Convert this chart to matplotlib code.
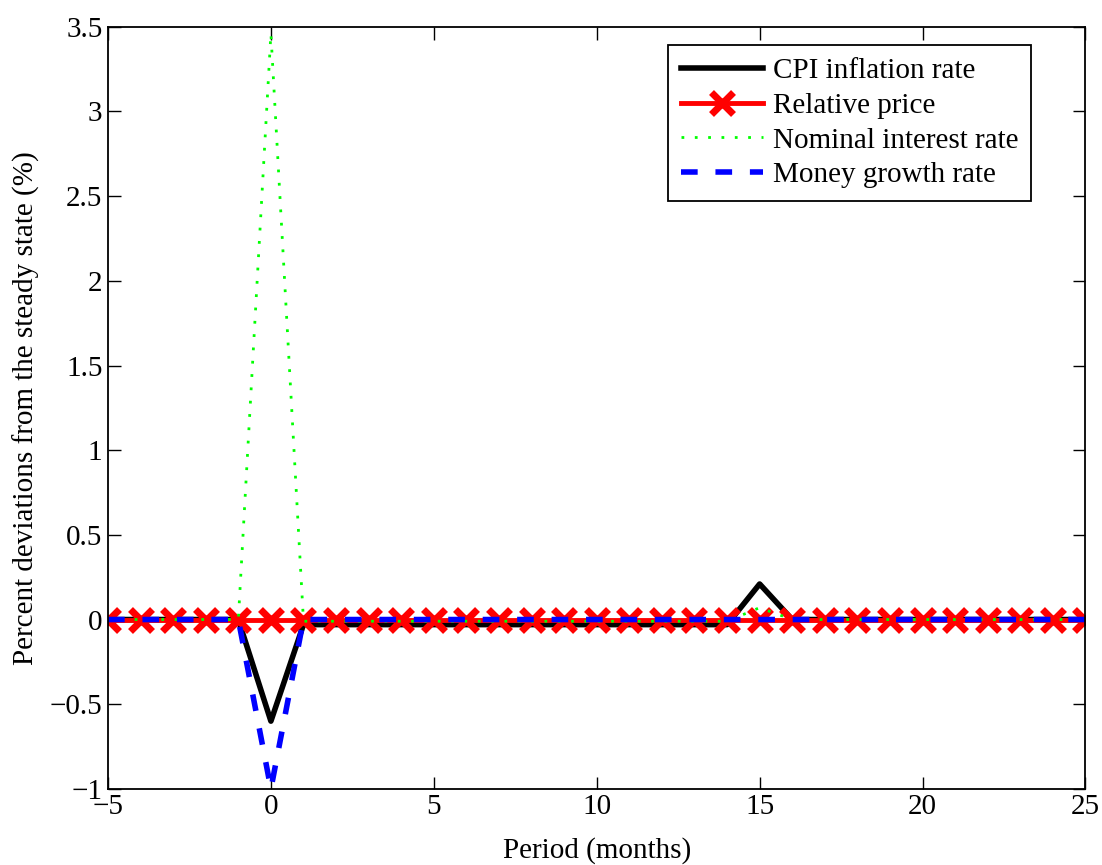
import numpy as np
import matplotlib
matplotlib.use("Agg")
import matplotlib.pyplot as plt

plt.rcParams["font.family"] = ["Liberation Serif", "DejaVu Serif"]

# ── Data ─────────────────────────────────────────────────────────
period = list(range(-5, 26))
cpi = [0, 0, 0, 0, 0, -0.6] + [-0.03] * 14 + [0.21] + [0] * 10
rel_price = [0] * 31
nominal = [0, 0, 0, 0, 0, 3.46] + [-0.01] * 14 + [0.07] + [0] * 10
money = [0, 0, 0, 0, 0, -1.0] + [0] * 25

xticks = [-5, 0, 5, 10, 15, 20, 25]
xtick_labels = ["\u22125", "0", "5", "10", "15", "20", "25"]
yticks = [-1, -0.5, 0, 0.5, 1, 1.5, 2, 2.5, 3, 3.5]
ytick_labels = ["\u22121", "\u22120.5", "0", "0.5", "1", "1.5", "2", "2.5", "3", "3.5"]

fig = plt.figure(figsize=(11.02, 8.65), dpi=100)
ax = fig.add_axes([0.098, 0.088, 0.887, 0.881])

ax.plot(period, cpi, color="black", lw=4, label="CPI inflation rate")
ax.plot(period, rel_price, color="red", lw=3.5, marker="x", ms=16, mew=5,
        label="Relative price")
ax.plot(period, nominal, color="#00ff00", lw=2, ls=(0, (1, 3.8)),
        label="Nominal interest rate")
ax.plot(period, money, color="blue", lw=4, ls=(0, (3, 3.2)),
        label="Money growth rate")

ax.set_xlim(-5, 25)
ax.set_ylim(-1, 3.5)
ax.set_xticks(xticks)
ax.set_xticklabels(xtick_labels)
ax.set_yticks(yticks)
ax.set_yticklabels(ytick_labels)
ax.tick_params(direction="in", top=True, right=True, labelsize=21, length=9, width=1, pad=4)
for s in ax.spines.values():
    s.set_linewidth(1.3)

ax.set_xlabel("Period (months)", fontsize=21, labelpad=12)
ax.set_ylabel("Percent deviations from the steady state (%)", fontsize=21)
ax.yaxis.set_label_coords(-0.07, 0.5)

leg = ax.legend(loc="upper right", bbox_to_anchor=(0.9447, 0.9764), borderaxespad=0,
                fontsize=21, frameon=True, fancybox=False, framealpha=1,
                edgecolor="black", handlelength=2.8, borderpad=0.45,
                labelspacing=0.28, handletextpad=0.35)
leg.get_frame().set_linewidth(1.3)

fig.savefig("out.png", dpi=100, facecolor="white")
